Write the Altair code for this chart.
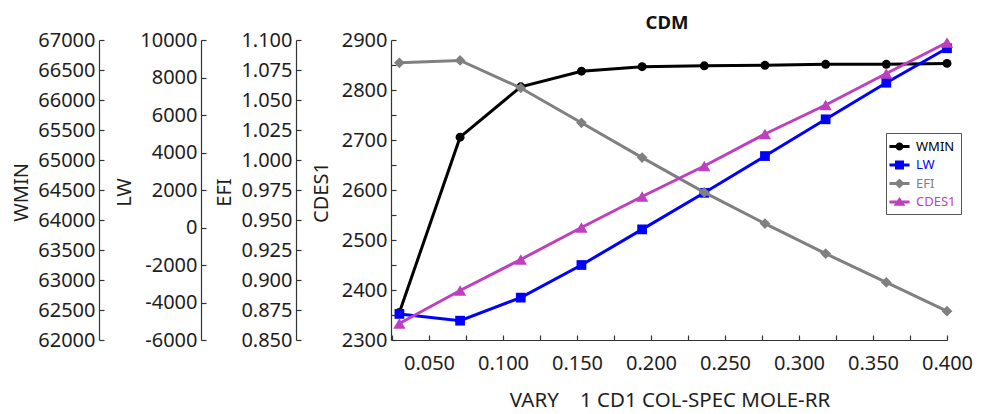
import altair as alt
import pandas as pd

# ---------------- data ----------------
x_vals = [0.030, 0.071, 0.112, 0.153, 0.194, 0.236, 0.277, 0.318, 0.359, 0.400]
wmin = [62460, 65380, 66220, 66480, 66555, 66570, 66578, 66595, 66595, 66610]
lw = [-4610, -4970, -3740, -2000, -100, 1850, 3810, 5770, 7720, 9560]
efi = [1.081, 1.083, 1.060, 1.031, 1.002, 0.973, 0.947, 0.922, 0.898, 0.874]
cdes1 = [2333, 2399, 2461, 2525, 2587, 2648, 2712, 2770, 2833, 2895]

series_names = ["WMIN", "LW", "EFI", "CDES1"]
series_colors = ["#000000", "#0000FF", "#808080", "#BF40BF"]

wmin_ticks = [62000, 62500, 63000, 63500, 64000, 64500, 65000, 65500, 66000, 66500, 67000]
lw_ticks = [-6000, -4000, -2000, 0, 2000, 4000, 6000, 8000, 10000]
efi_ticks = [0.850, 0.875, 0.900, 0.925, 0.950, 0.975, 1.000, 1.025, 1.050, 1.075, 1.100]
cdes1_labels = [2300, 2400, 2500, 2600, 2700, 2800, 2900]
cdes1_ticks = [2300, 2350, 2400, 2450, 2500, 2550, 2600, 2650, 2700, 2750, 2800, 2850, 2900]
x_labels = [0.05, 0.10, 0.15, 0.20, 0.25, 0.30, 0.35, 0.40]
x_ticks = [0.025, 0.05, 0.075, 0.10, 0.125, 0.15, 0.175, 0.20, 0.225, 0.25, 0.275,
           0.30, 0.325, 0.35, 0.375, 0.40]

x_title = "VARY\u00a0\u00a0\u00a0\u00a01 CD1 COL-SPEC MOLE-RR"
chart_title = "CDM"

# ---------------- styling ----------------
FONT = "Noto Sans"
W, H = 555, 300
TXT = "#1e1e1e"
AX = "#333333"
LFS = 20

df = pd.DataFrame({"x": x_vals, "WMIN": wmin, "LW": lw, "EFI": efi, "CDES1": cdes1})

settings = {
    "WMIN": dict(domain=[62000, 67000], labels=wmin_ticks, ticks=wmin_ticks, offset=293,
                 expr="datum.value + ''", titleX=-78, shape="circle", size=80),
    "LW": dict(domain=[-6000, 10000], labels=lw_ticks, ticks=lw_ticks, offset=191,
               expr="datum.value + ''", titleX=-77, shape="square", size=95),
    "EFI": dict(domain=[0.85, 1.10], labels=efi_ticks, ticks=efi_ticks, offset=96,
                expr="format(datum.value, '.3f')", titleX=-72, shape="diamond", size=115),
    "CDES1": dict(domain=[2300, 2900], labels=cdes1_labels, ticks=cdes1_ticks, offset=1,
                  expr="datum.value + ''", titleX=-70, shape="triangle-up", size=150),
}

xscale = alt.Scale(domain=[0.025, 0.40], nice=False, zero=False)

x_label_axis = alt.Axis(orient="bottom", values=x_labels, format=".3f", ticks=False, tickSize=0,
                        labelPadding=13, labelFlush=False, labelOverlap=False, grid=False,
                        labelFont=FONT, labelFontSize=LFS, labelColor=TXT,
                        domain=True, domainColor=AX, domainWidth=1.2,
                        title=x_title, titleFont=FONT, titleFontSize=20.5, titleFontWeight="normal",
                        titleY=66, titleBaseline="alphabetic", titleColor=TXT)
# inward ticks of the x axis; this axis also carries the chart title "CDM"
x_tick_axis = alt.Axis(orient="top", offset=-H, values=x_ticks, labels=False, domain=False,
                       ticks=True, tickSize=5, tickColor=AX, tickWidth=1.2, grid=False,
                       title=chart_title, titleFont=FONT, titleFontSize=18.5, titleFontWeight="bold",
                       titleColor="#111111", titleX=W / 2 - 3, titleY=-312, titleAngle=0,
                       titleBaseline="alphabetic", titleAlign="center")

base = alt.Chart(df)
layers = []
for i, name in enumerate(series_names):
    s = settings[name]
    color = series_colors[i]
    yscale = alt.Scale(domain=s["domain"], nice=False, zero=False)
    label_axis = alt.Axis(orient="left", offset=s["offset"], values=s["labels"], labelExpr=s["expr"],
                          ticks=False, tickSize=0, labelPadding=4, labelOverlap=False,
                          labelFont=FONT, labelFontSize=LFS, labelColor=TXT,
                          labelFlush=False, grid=False, domain=True, domainColor=AX, domainWidth=1.2,
                          title=name, titleFont=FONT, titleFontWeight="normal", titleFontSize=20,
                          titleX=s["titleX"], titleY=152, titleAngle=270,
                          titleBaseline="middle", titleAlign="center", titleColor=TXT)
    tick_axis = alt.Axis(orient="right", offset=-(W + s["offset"]), values=s["ticks"],
                         labels=False, domain=False, ticks=True, tickSize=5, tickColor=AX,
                         tickWidth=1.2, grid=False, title=None)
    line = base.mark_line(color=color, strokeWidth=3).encode(
        x=alt.X("x:Q", scale=xscale, axis=x_label_axis if i == 0 else None),
        y=alt.Y(f"{name}:Q", scale=yscale, axis=label_axis),
    )
    pts = base.mark_point(filled=True, shape=s["shape"], size=s["size"], color=color,
                          opacity=1).encode(
        x=alt.X("x:Q", scale=xscale, axis=x_tick_axis if i == 0 else None),
        y=alt.Y(f"{name}:Q", scale=yscale, axis=tick_axis),
    )
    layers += [line, pts]

# legend (line-through-marker symbols)
legend_paths = [
    "M-1.18,-0.18H1.18V0.18H-1.18Z M0.47,0A0.47,0.47 0 1 1 -0.47,0A0.47,0.47 0 1 1 0.47,0Z",
    "M-1.18,-0.18H1.18V0.18H-1.18Z M-0.53,-0.53H0.53V0.53H-0.53Z",
    "M-1.18,-0.18H1.18V0.18H-1.18Z M0,-0.6L0.6,0L0,0.6L-0.6,0Z",
    "M-1.18,-0.18H1.18V0.18H-1.18Z M0,-0.6L0.7,0.45L-0.7,0.45Z",
]
color_expr = " : ".join(
    f"datum.value == '{n}' ? '{c}'" for n, c in zip(series_names, series_colors)
) + " : '#000000'"
leg = alt.Legend(title=None, orient="none", legendX=494, legendY=93, padding=5,
                 strokeColor="#555555", fillColor="white", symbolSize=289,
                 symbolStrokeWidth=0, symbolOpacity=1, labelFontSize=13, labelOffset=8,
                 rowPadding=2.5, labelFont=FONT, labelColor=alt.ExprRef(color_expr),
                 labelExpr="datum.label + '\u00a0\u00a0\u00a0'")
legend_df = pd.DataFrame({"series": series_names})
legend_layer = alt.Chart(legend_df).mark_point(filled=True, opacity=0).encode(
    color=alt.Color("series:N", scale=alt.Scale(domain=series_names, range=series_colors), legend=leg),
    shape=alt.Shape("series:N", scale=alt.Scale(domain=series_names, range=legend_paths), legend=leg),
)
layers.append(legend_layer)

chart = alt.layer(*layers).resolve_scale(
    y="independent"
).resolve_axis(
    x="independent", y="independent"
).properties(
    width=W, height=H,
    autosize=alt.AutoSizeParams(type="none"),
    padding={"left": 392, "top": 40, "right": 34, "bottom": 74},
).configure_axis(
    labelFont=FONT, titleFont=FONT, labelFontSize=LFS, labelColor=TXT, grid=False
).configure_view(stroke=None)

chart.save("out.html", embed_options={"renderer": "svg", "actions": False})
